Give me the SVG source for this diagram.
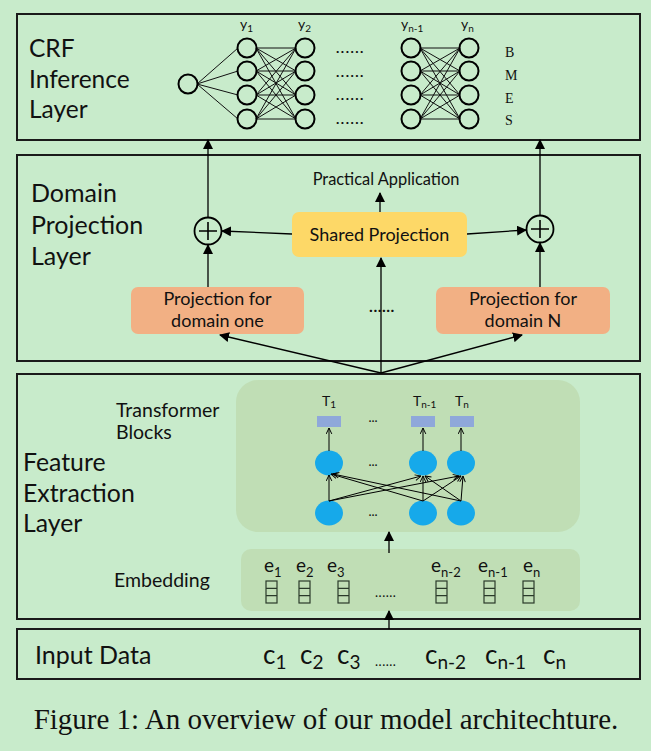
<svg xmlns="http://www.w3.org/2000/svg" width="651" height="751" viewBox="0 0 651 751">
<defs>
<marker id="ah" viewBox="0 0 10 10" refX="9" refY="5" markerWidth="10" markerHeight="10" markerUnits="userSpaceOnUse" orient="auto">
<path d="M0,0 L10,5 L0,10 z" fill="#000"/>
</marker>
<marker id="av" viewBox="0 0 10 10" refX="9.5" refY="5" markerWidth="7" markerHeight="7" markerUnits="userSpaceOnUse" orient="auto">
<path d="M1,1 L9.5,5 L1,9" fill="none" stroke="#000" stroke-width="1.4"/>
</marker>
<style>
.lyr{fill:none;stroke:#1a1a1a;stroke-width:2}
.t{font-family:Lato,"Open Sans",sans-serif;fill:#111}
.big{font-size:24.5px}
.crf{fill:none;stroke:#000;stroke-width:2}
.cl{stroke:#111;stroke-width:1}
.arr{stroke:#000;stroke-width:1.3;fill:none;marker-end:url(#ah)}
.sarr{stroke:#000;stroke-width:1;fill:none;marker-end:url(#av)}
.blue{fill:#16a9ea}
.trect{fill:#8fa8da}
.emb{fill:none;stroke:#2a3a2a;stroke-width:1.2}
.ser{font-family:"Liberation Serif",serif;fill:#111}
</style>
</defs>
<rect width="651" height="751" fill="#c8ebcb"/>

<g id="crf-layer">
<rect class="lyr" x="17" y="14" width="623" height="126"/>
<text class="t big" x="29" y="57">CRF</text>
<text class="t big" x="29" y="88">Inference</text>
<text class="t big" x="29" y="118">Layer</text>
<g id="crf-lines">
<line class="cl" x1="197" y1="84" x2="238" y2="48"/>
<line class="cl" x1="197" y1="84" x2="238" y2="71"/>
<line class="cl" x1="197" y1="84" x2="238" y2="95"/>
<line class="cl" x1="197" y1="84" x2="238" y2="119"/>
<g id="bip1">
<line class="cl" x1="256" y1="48" x2="296" y2="48"/><line class="cl" x1="256" y1="48" x2="296" y2="71"/><line class="cl" x1="256" y1="48" x2="296" y2="95"/><line class="cl" x1="256" y1="48" x2="296" y2="119"/>
<line class="cl" x1="256" y1="71" x2="296" y2="48"/><line class="cl" x1="256" y1="71" x2="296" y2="71"/><line class="cl" x1="256" y1="71" x2="296" y2="95"/><line class="cl" x1="256" y1="71" x2="296" y2="119"/>
<line class="cl" x1="256" y1="95" x2="296" y2="48"/><line class="cl" x1="256" y1="95" x2="296" y2="71"/><line class="cl" x1="256" y1="95" x2="296" y2="95"/><line class="cl" x1="256" y1="95" x2="296" y2="119"/>
<line class="cl" x1="256" y1="119" x2="296" y2="48"/><line class="cl" x1="256" y1="119" x2="296" y2="71"/><line class="cl" x1="256" y1="119" x2="296" y2="95"/><line class="cl" x1="256" y1="119" x2="296" y2="119"/>
</g>
<g id="bip2">
<line class="cl" x1="420" y1="48" x2="460" y2="48"/><line class="cl" x1="420" y1="48" x2="460" y2="71"/><line class="cl" x1="420" y1="48" x2="460" y2="95"/><line class="cl" x1="420" y1="48" x2="460" y2="119"/>
<line class="cl" x1="420" y1="71" x2="460" y2="48"/><line class="cl" x1="420" y1="71" x2="460" y2="71"/><line class="cl" x1="420" y1="71" x2="460" y2="95"/><line class="cl" x1="420" y1="71" x2="460" y2="119"/>
<line class="cl" x1="420" y1="95" x2="460" y2="48"/><line class="cl" x1="420" y1="95" x2="460" y2="71"/><line class="cl" x1="420" y1="95" x2="460" y2="95"/><line class="cl" x1="420" y1="95" x2="460" y2="119"/>
<line class="cl" x1="420" y1="119" x2="460" y2="48"/><line class="cl" x1="420" y1="119" x2="460" y2="71"/><line class="cl" x1="420" y1="119" x2="460" y2="95"/><line class="cl" x1="420" y1="119" x2="460" y2="119"/>
</g>
</g>
<g id="crf-nodes">
<circle class="crf" cx="188" cy="84" r="9.5"/>
<circle class="crf" cx="247" cy="48" r="9.5"/><circle class="crf" cx="247" cy="71" r="9.5"/><circle class="crf" cx="247" cy="95" r="9.5"/><circle class="crf" cx="247" cy="119" r="9.5"/>
<circle class="crf" cx="305" cy="48" r="9.5"/><circle class="crf" cx="305" cy="71" r="9.5"/><circle class="crf" cx="305" cy="95" r="9.5"/><circle class="crf" cx="305" cy="119" r="9.5"/>
<circle class="crf" cx="411" cy="48" r="9.5"/><circle class="crf" cx="411" cy="71" r="9.5"/><circle class="crf" cx="411" cy="95" r="9.5"/><circle class="crf" cx="411" cy="119" r="9.5"/>
<circle class="crf" cx="469" cy="48" r="9.5"/><circle class="crf" cx="469" cy="71" r="9.5"/><circle class="crf" cx="469" cy="95" r="9.5"/><circle class="crf" cx="469" cy="119" r="9.5"/>
</g>
<g class="t" font-size="14">
<text x="240" y="29">y<tspan font-size="10" dy="3">1</tspan></text>
<text x="298" y="29">y<tspan font-size="10" dy="3">2</tspan></text>
<text x="401" y="29">y<tspan font-size="10" dy="3">n-1</tspan></text>
<text x="461" y="29">y<tspan font-size="10" dy="3">n</tspan></text>
</g>
<g class="t" font-size="14" font-weight="bold" letter-spacing="1.5">
<text x="336" y="53">......</text>
<text x="336" y="77">......</text>
<text x="336" y="100">......</text>
<text x="336" y="124">......</text>
</g>
<g class="ser" font-size="14">
<text x="505" y="57">B</text>
<text x="505" y="80">M</text>
<text x="505" y="103">E</text>
<text x="505" y="125">S</text>
</g>
</g>

<g id="domain-layer">
<rect class="lyr" x="17" y="155" width="623" height="206"/>
<text class="t" font-size="25" x="31" y="202">Domain</text>
<text class="t" font-size="25" x="31" y="234">Projection</text>
<text class="t" font-size="25" x="31" y="265">Layer</text>
<text class="t" font-size="16.4" x="386" y="185" text-anchor="middle">Practical Application</text>
<text class="t" font-size="16" font-weight="bold" x="382" y="312" text-anchor="middle" letter-spacing="0.5">......</text>
</g>

<g id="shared-projection">
<rect x="292" y="212" width="175" height="45" rx="7" fill="#fdd867"/>
<text class="t" font-size="18" x="379.5" y="241" text-anchor="middle">Shared Projection</text>
</g>

<g id="proj-one">
<rect x="131" y="287" width="173" height="47" rx="7" fill="#f2b084"/>
<text class="t" font-size="18" x="217.5" y="305" text-anchor="middle">Projection for</text>
<text class="t" font-size="18" x="217.5" y="327" text-anchor="middle">domain one</text>
</g>

<g id="proj-n">
<rect x="436" y="287" width="174" height="47" rx="7" fill="#f2b084"/>
<text class="t" font-size="18" x="523" y="305" text-anchor="middle">Projection for</text>
<text class="t" font-size="18" x="523" y="327" text-anchor="middle">domain N</text>
</g>

<g id="plus-left">
<circle cx="208" cy="231" r="13.5" fill="none" stroke="#000" stroke-width="1.8"/>
<path d="M199,231 H217 M208,222 V240" stroke="#000" stroke-width="1.6"/>
</g>
<g id="plus-right">
<circle cx="540" cy="229" r="13.5" fill="none" stroke="#000" stroke-width="1.8"/>
<path d="M531,229 H549 M540,220 V238" stroke="#000" stroke-width="1.6"/>
</g>

<g id="feature-layer">
<rect class="lyr" x="17" y="374" width="623" height="245"/>
<text class="t" font-size="24.8" x="23" y="471">Feature</text>
<text class="t" font-size="24.8" x="23" y="502">Extraction</text>
<text class="t" font-size="24.8" x="23" y="532">Layer</text>
<text class="t" font-size="19.5" x="116" y="417">Transformer</text>
<text class="t" font-size="19.5" x="116" y="439">Blocks</text>
<text class="t" font-size="19.5" x="114" y="587">Embedding</text>
</g>

<g id="transformer-blocks">
<rect x="236" y="380" width="344" height="152" rx="22" fill="#c0deb5"/>
<g class="t" font-size="14">
<text x="322" y="406">T<tspan font-size="10" dy="2">1</tspan></text>
<text x="413" y="406">T<tspan font-size="10" dy="2">n-1</tspan></text>
<text x="455" y="406">T<tspan font-size="10" dy="2">n</tspan></text>
</g>
<rect class="trect" x="317" y="416" width="24" height="11"/>
<rect class="trect" x="411" y="416" width="24" height="11"/>
<rect class="trect" x="450" y="416" width="24" height="11"/>
<g class="t" font-size="13" text-anchor="middle">
<text x="373" y="422">...</text>
<text x="373" y="466">...</text>
<text x="373" y="516">...</text>
</g>
<ellipse class="blue" cx="329" cy="463" rx="14" ry="12.5"/>
<ellipse class="blue" cx="423" cy="463" rx="14" ry="12.5"/>
<ellipse class="blue" cx="461" cy="463" rx="14" ry="12.5"/>
<ellipse class="blue" cx="329" cy="513" rx="14" ry="12.5"/>
<ellipse class="blue" cx="423" cy="513" rx="14" ry="12.5"/>
<ellipse class="blue" cx="461" cy="513" rx="14" ry="12.5"/>
</g>

<g id="embedding">
<rect x="241" y="549" width="339" height="62" rx="10" fill="#c0deb5"/>
<g class="t" font-size="19">
<text x="264" y="572">e<tspan font-size="13" dy="5">1</tspan></text>
<text x="296" y="572">e<tspan font-size="13" dy="5">2</tspan></text>
<text x="327" y="572">e<tspan font-size="13" dy="5">3</tspan></text>
<text x="431" y="572">e<tspan font-size="13" dy="5">n-2</tspan></text>
<text x="478" y="572">e<tspan font-size="13" dy="5">n-1</tspan></text>
<text x="523" y="572">e<tspan font-size="13" dy="5">n</tspan></text>
</g>
<g class="emb">
<rect x="266" y="581" width="11" height="22"/><path d="M266,588.3 H277 M266,595.7 H277"/>
<rect x="299" y="581" width="11" height="22"/><path d="M299,588.3 H310 M299,595.7 H310"/>
<rect x="338" y="581" width="11" height="22"/><path d="M338,588.3 H349 M338,595.7 H349"/>
<rect x="436" y="581" width="11" height="22"/><path d="M436,588.3 H447 M436,595.7 H447"/>
<rect x="484" y="581" width="11" height="22"/><path d="M484,588.3 H495 M484,595.7 H495"/>
<rect x="523" y="581" width="11" height="22"/><path d="M523,588.3 H534 M523,595.7 H534"/>
</g>
<text class="t" font-size="13" x="375" y="597" letter-spacing="0.5">......</text>
</g>

<g id="input-data">
<rect class="lyr" x="17" y="629" width="623" height="50"/>
<text class="t" font-size="25" x="35" y="664">Input Data</text>
<g class="t" font-size="26">
<text x="263" y="664">c<tspan font-size="19" dy="5">1</tspan></text>
<text x="300" y="664">c<tspan font-size="19" dy="5">2</tspan></text>
<text x="337" y="664">c<tspan font-size="19" dy="5">3</tspan></text>
<text x="425" y="664">c<tspan font-size="19" dy="5">n-2</tspan></text>
<text x="485" y="664">c<tspan font-size="19" dy="5">n-1</tspan></text>
<text x="543" y="664">c<tspan font-size="19" dy="5">n</tspan></text>
</g>
<text class="t" font-size="13" x="375" y="666" letter-spacing="0.5">......</text>
</g>

<g id="connectors">
<line class="arr" x1="208" y1="217" x2="208" y2="140"/>
<line class="arr" x1="540" y1="215" x2="540" y2="140"/>
<line class="arr" x1="380" y1="212" x2="380" y2="193"/>
<line class="arr" x1="292" y1="234" x2="222" y2="231"/>
<line class="arr" x1="467" y1="234" x2="526" y2="230"/>
<line class="arr" x1="208" y1="287" x2="208" y2="245"/>
<line class="arr" x1="540" y1="287" x2="540" y2="243"/>
<line class="arr" x1="381" y1="373" x2="381" y2="258"/>
<line class="arr" x1="381" y1="373" x2="220" y2="335"/>
<line class="arr" x1="381" y1="373" x2="522" y2="335"/>
<line class="arr" x1="389" y1="553" x2="389" y2="532"/>
<line class="arr" x1="389" y1="629" x2="389" y2="611"/>
<line class="sarr" x1="329" y1="451" x2="329" y2="428"/>
<line class="sarr" x1="423" y1="451" x2="423" y2="428"/>
<line class="sarr" x1="461" y1="451" x2="461" y2="428"/>
<line class="sarr" x1="329" y1="501" x2="329" y2="475"/>
<line class="sarr" x1="329" y1="501" x2="421" y2="476"/>
<line class="sarr" x1="329" y1="501" x2="459" y2="476"/>
<line class="sarr" x1="423" y1="501" x2="331" y2="474"/>
<line class="sarr" x1="423" y1="501" x2="423" y2="476"/>
<line class="sarr" x1="423" y1="501" x2="461" y2="476"/>
<line class="sarr" x1="461" y1="501" x2="333" y2="474"/>
<line class="sarr" x1="461" y1="501" x2="425" y2="476"/>
<line class="sarr" x1="461" y1="501" x2="463" y2="476"/>
</g>

<text class="ser" font-size="29" x="326" y="729" text-anchor="middle">Figure 1: An overview of our model architechture.</text>
</svg>
